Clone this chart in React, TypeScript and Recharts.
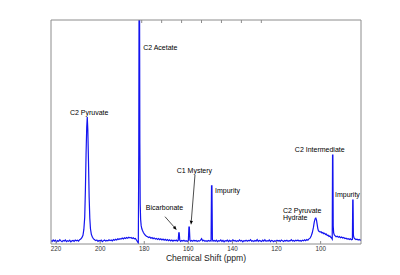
import React from 'react';
import { LineChart, Line, XAxis, YAxis, ReferenceDot, ReferenceLine } from 'recharts';

// [chemical shift (ppm), intensity], left to right
const leftBaseline: [number, number][] = [
  [222.3, 1.6], [221.8, 1.1], [221.3, 1.8], [220.8, 1.3], [220.3, 1.7], [219.8, 0.9], [219.3, 1.5],
  [218.8, 1.2], [218.3, 1.9], [217.8, 1.4], [217.3, 1.0], [216.8, 1.6], [216.3, 1.3], [215.8, 1.8],
  [215.3, 1.1], [214.8, 1.5], [214.3, 1.2], [213.8, 1.7], [213.3, 1.0], [212.8, 1.4], [212.3, 1.6],
  [211.8, 1.2], [211.3, 1.8], [210.8, 1.4], [210.3, 1.7], [209.8, 1.3], [209.3, 1.9],
];

const pyruvatePeak: [number, number][] = [
  [208.8, 2.2], [208.3, 2.8], [207.8, 3.9], [207.4, 6.5], [207.0, 12], [206.7, 24], [206.4, 40],
  [206.1, 52], [205.85, 56.7], [205.6, 51], [205.3, 37], [205.0, 21], [204.7, 11.5], [204.4, 6.8],
  [204.0, 4.3], [203.5, 3.0], [203.0, 2.3], [202.5, 1.9], [202.0, 1.5],
];

const midBaseline: [number, number][] = [
  [201.5, 1.8], [201, 1.2], [200.5, 1.6], [200, 1.3], [199.5, 1.7], [199, 1.1], [198.5, 1.5],
  [198, 1.8], [197.5, 1.3], [197, 1.6], [196.5, 1.4], [196, 1.9], [195.5, 1.5], [195, 1.8],
  [194.5, 1.4], [194, 2.0], [193.5, 1.7], [193, 2.1], [192.5, 1.8], [192, 2.3], [191.5, 2.0],
  [191, 2.4], [190.5, 2.2], [190, 2.7], [189.5, 2.3], [189, 2.8], [188.5, 2.5], [188, 2.9],
  [187.5, 2.6], [187, 3.0], [186.5, 2.7], [186, 2.9], [185.5, 2.5], [185, 2.8], [184.5, 2.3],
  [184, 2.5], [183.5, 1.7], [183, 0.9], [182.7, 0.4],
];

const acetatePeak: [number, number][] = [
  [182.5, 40], [182.35, 115], [182.15, 115], [182.0, 45], [181.85, 18], [181.65, 11], [181.4, 8.2],
  [181.1, 6.8], [180.8, 6.0], [180.4, 5.1], [180.0, 4.5], [179.5, 3.9], [179.0, 3.5], [178.5, 3.2],
  [178.0, 2.9],
];

const smallPeaks: [number, number][] = [
  [177.5, 3.1], [177, 2.6], [176.5, 2.9], [176, 2.4], [175.5, 2.7], [175, 2.2], [174.5, 2.5],
  [174, 2.0], [173.5, 2.4], [173, 1.9], [172.5, 2.3], [172, 1.8], [171.5, 2.2], [171, 1.7],
  [170.5, 2.1], [170, 1.6], [169.5, 2.0], [169, 1.5], [168.5, 1.9], [168, 1.4], [167.5, 1.8],
  [167, 1.3], [166.5, 1.7], [166, 1.4], [165.5, 1.8], [165, 1.3], [164.6, 1.6], [164.35, 5.0],
  [164.15, 5.0], [163.9, 1.7], [163.5, 1.2], [163, 1.6], [162.5, 1.3], [162, 1.7], [161.5, 1.2],
  [161, 1.5], [160.5, 1.1], [160, 1.6], [159.75, 7.5], [159.55, 7.5], [159.3, 1.8], [159, 1.3],
  [158.5, 1.6], [158, 1.2], [157.5, 1.7], [157, 1.3], [156.5, 1.6], [156, 1.1], [155.5, 1.5],
  [155, 1.3], [154.5, 1.6], [154, 2.4], [153.5, 1.4], [153, 1.7], [152.5, 1.2], [152, 1.5],
  [151.5, 1.1], [151, 1.6], [150.5, 1.3], [150, 1.5], [149.7, 1.4], [149.5, 26], [149.3, 26],
  [149.1, 2.0],
];

const rightBaseline: [number, number][] = [
  [148.8, 1.3], [148.3, 1.6], [147.8, 1.2], [147.3, 1.7], [146.8, 1.1], [146.3, 1.5], [145.8, 1.3],
  [145.3, 1.8], [144.8, 1.2], [144.3, 1.6], [143.8, 1.0], [143.3, 1.5], [142.8, 1.3], [142.3, 1.7],
  [141.8, 1.1], [141.3, 1.6], [140.8, 1.2], [140.3, 1.5], [139.8, 1.9], [139.3, 1.3], [138.8, 1.6],
  [138.3, 1.1], [137.8, 1.5], [137.3, 1.2], [136.8, 1.8], [136.3, 1.3], [135.8, 1.6], [135.3, 1.0],
  [134.8, 1.5], [134.3, 1.3], [133.8, 1.7], [133.3, 1.2], [132.8, 1.6], [132.3, 1.4], [131.8, 1.9],
  [131.3, 1.2], [130.8, 1.5], [130.3, 1.1], [129.8, 1.6], [129.3, 1.3], [128.8, 2.0], [128.3, 1.2],
  [127.8, 1.6], [127.3, 1.4], [126.8, 1.1], [126.3, 1.7], [125.8, 1.3], [125.3, 1.9], [124.8, 1.2],
  [124.3, 1.5], [123.8, 1.3], [123.3, 1.8], [122.8, 1.1], [122.3, 1.6], [121.8, 1.4], [121.3, 1.0],
  [120.8, 1.5], [120.3, 1.2], [119.8, 1.7], [119.3, 1.3], [118.8, 1.6], [118.3, 1.2], [117.8, 1.8],
  [117.3, 1.4], [116.8, 1.1], [116.3, 1.6], [115.8, 1.3], [115.3, 1.7], [114.8, 1.2], [114.3, 1.5],
  [113.8, 1.4], [113.3, 1.9], [112.8, 1.3], [112.3, 1.6], [111.8, 1.2], [111.3, 1.7], [110.8, 1.4],
  [110.3, 1.8], [109.8, 1.3], [109.3, 1.6], [108.8, 1.2], [108.3, 1.7], [107.8, 1.4], [107.3, 1.9],
  [106.8, 1.5], [106.3, 2.0],
];

const hydratePeak: [number, number][] = [
  [105.8, 1.7], [105.3, 2.3], [104.8, 2.6], [104.3, 3.6], [103.8, 5.0], [103.3, 7.3], [102.9, 9.8],
  [102.5, 11.3], [102.2, 11.6], [101.9, 10.8], [101.6, 8.9], [101.3, 7.0], [101.0, 5.9], [100.6, 5.6],
  [100.2, 5.3], [99.8, 5.5], [99.4, 4.9], [99.0, 5.1], [98.6, 4.6], [98.2, 4.8], [97.8, 4.2],
  [97.4, 4.4], [97.0, 3.8], [96.6, 3.9], [96.2, 3.4], [95.8, 3.6], [95.4, 3.0], [95.0, 2.6],
  [94.75, 2.2],
];

const upfieldPeaks: [number, number][] = [
  [94.6, 39.7], [94.45, 39.7], [94.3, 8], [94.1, 5], [93.8, 4], [93.4, 3.6], [93, 3.2], [92.5, 3.5],
  [92, 3.0], [91.5, 3.3], [91, 2.8], [90.5, 3.1], [90, 2.7], [89.5, 2.9], [89, 2.4], [88.5, 2.6],
  [88, 2.2], [87.5, 2.4], [87, 2.0], [86.5, 2.3], [86, 1.9], [85.6, 2.1], [85.45, 19.6], [85.3, 19.6],
  [85.15, 4], [84.9, 2.8], [84.5, 2.3], [84, 2.0], [83.5, 2.2], [83, 1.8], [82.5, 2.0], [82, 1.7],
  [81.7, 1.9],
];

const shiftTicks = [220, 200, 180, 160, 140, 120, 100];

const labels = [
  { text: ['C2 Pyruvate'], shift: 205.0, level: 58.6, anchor: 'middle' },
  { text: ['C2 Acetate'], shift: 180.5, level: 87.8, anchor: 'start' },
  { text: ['Bicarbonate'], shift: 179.3, level: 16.2, anchor: 'start' },
  { text: ['C1 Mystery'], shift: 165.3, level: 33.0, anchor: 'start' },
  { text: ['Impurity'], shift: 147.9, level: 23.8, anchor: 'start' },
  { text: ['C2 Pyruvate', 'Hydrate'], shift: 117.1, level: 15.0, anchor: 'start' },
  { text: ['C2 Intermediate'], shift: 111.7, level: 42.0, anchor: 'start' },
  { text: ['Impurity'], shift: 93.5, level: 21.9, anchor: 'start' },
];

const arrows = [
  { from: [170.6, 12.2], to: [165.3, 6.3] },
  { from: [157.0, 30.8], to: [158.8, 8.6] },
];

const data = [
  ...leftBaseline, ...pyruvatePeak, ...midBaseline, ...acetatePeak,
  ...smallPeaks, ...rightBaseline, ...hydratePeak, ...upfieldPeaks,
].map(([shift, intensity]) => ({ shift, intensity }));

const font = 'Liberation Sans, Arial, sans-serif';
const frame = '#8c8c8c';

const BottomTick = (props: any) => {
  const { x, y, payload } = props;
  return (
    <g>
      <line x1={x} y1={y} x2={x} y2={y - 3} stroke={frame} />
      <text x={x} y={y + 7.3} textAnchor="middle" fontSize={6.3} fill="#333" fontFamily={font}>
        {payload.value}
      </text>
    </g>
  );
};

const TopTick = (props: any) => {
  const { x, y } = props;
  return <line x1={x} y1={y} x2={x} y2={y + 3} stroke={frame} />;
};

const Arrow = (props: any) => {
  const { x1, y1, x2, y2 } = props;
  const a = Math.atan2(y2 - y1, x2 - x1);
  const len = 4;
  const w = 1.6;
  const bx = x2 - len * Math.cos(a);
  const by = y2 - len * Math.sin(a);
  const px = -Math.sin(a) * w;
  const py = Math.cos(a) * w;
  return (
    <g>
      <line x1={x1} y1={y1} x2={bx} y2={by} stroke="#000" strokeWidth={0.7} />
      <polygon points={`${x2},${y2} ${bx + px},${by + py} ${bx - px},${by - py}`} fill="#000" />
    </g>
  );
};

export default function App() {
  return (
    <div style={{ position: 'absolute', left: 0, top: 0, width: 400, height: 275, background: '#fff' }}>
      <LineChart width={400} height={275} data={data} margin={{ top: 19, right: 38, bottom: 30, left: 50 }}>
        <XAxis
          dataKey="shift"
          type="number"
          domain={[81.7, 222.3]}
          reversed
          allowDataOverflow
          ticks={shiftTicks}
          interval={0}
          height={1}
          tickSize={0}
          tickMargin={0}
          tick={<BottomTick />}
          axisLine={{ stroke: frame }}
          tickLine={false}
          label={{ value: 'Chemical Shift (ppm)', position: 'bottom', offset: 9.5, fontSize: 8.6, fill: '#222', fontFamily: font }}
        />
        <XAxis
          xAxisId="top"
          orientation="top"
          type="number"
          domain={[81.7, 222.3]}
          reversed
          allowDataOverflow
          ticks={shiftTicks}
          interval={0}
          height={1}
          tickSize={0}
          tickMargin={0}
          tick={<TopTick />}
          axisLine={{ stroke: frame }}
          tickLine={false}
        />
        <YAxis domain={[0, 100]} allowDataOverflow width={1} tick={false} tickLine={false} axisLine={{ stroke: frame }} />
        <YAxis
          yAxisId="right"
          orientation="right"
          domain={[0, 100]}
          width={1}
          tick={false}
          tickLine={false}
          axisLine={{ stroke: frame }}
        />
        <Line
          dataKey="intensity"
          stroke="#1414f0"
          strokeWidth={1.2}
          dot={false}
          isAnimationActive={false}
        />
        {arrows.map((a, i) => (
          <ReferenceLine
            key={`arrow-${i}`}
            segment={[{ x: a.from[0], y: a.from[1] }, { x: a.to[0], y: a.to[1] }]}
            shape={(p: any) => <Arrow {...p} />}
          />
        ))}
        {labels.map((l, i) => (
          <ReferenceDot
            key={`label-${i}`}
            x={l.shift}
            y={l.level}
            r={0}
            fill="none"
            stroke="none"
            label={{
              content: (p: any) => {
                const cx = p.viewBox.x + p.viewBox.width / 2;
                const cy = p.viewBox.y + p.viewBox.height / 2;
                return (
                  <text x={cx} y={cy} textAnchor={l.anchor} fontSize={7} fill="#000000" fontFamily={font}>
                    {l.text.map((t, j) => (
                      <tspan key={j} x={cx} dy={j === 0 ? 2.5 : 7.5} fill="#000000">{t}</tspan>
                    ))}
                  </text>
                );
              },
            }}
          />
        ))}
      </LineChart>
    </div>
  );
}
